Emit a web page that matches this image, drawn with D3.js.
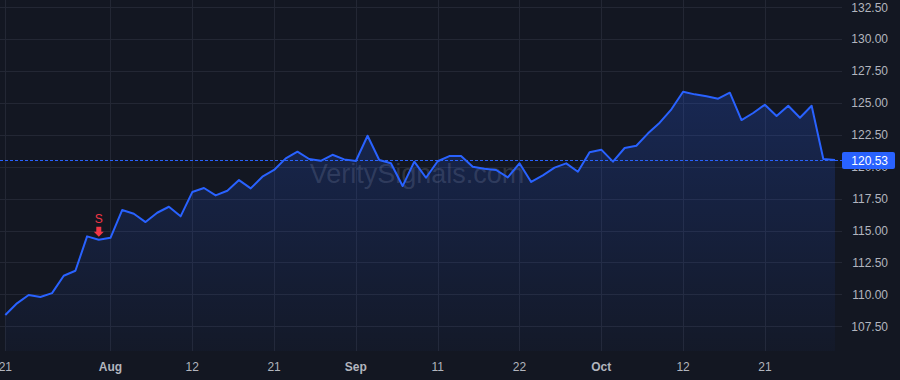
<!DOCTYPE html>
<html>
<head>
<meta charset="utf-8">
<script src="https://cdn.jsdelivr.net/npm/d3@7"></script>
<style>
  html, body { margin: 0; padding: 0; background: #131722; }
  svg { display: block; font-family: "Liberation Sans", Arial, sans-serif; }
</style>
</head>
<body>
<div id="chart"></div>
<script>
// closing prices, one per trading day (Jul 21 .. end of Oct)
var prices = [
  108.38, 109.30, 109.95, 109.79, 110.10, 111.46, 111.85, 114.54, 114.28, 114.43,
  116.60, 116.31, 115.66, 116.39, 116.86, 116.11, 118.01, 118.33, 117.75, 118.11,
  118.95, 118.30, 119.21, 119.74, 120.65, 121.17, 120.60, 120.46, 120.93, 120.57,
  120.44, 122.42, 120.52, 120.26, 118.48, 120.39, 119.13, 120.42, 120.83, 120.83,
  119.99, 119.84, 119.74, 119.16, 120.26, 118.80, 119.32, 119.92, 120.26, 119.60,
  121.12, 121.33, 120.39, 121.46, 121.64, 122.61, 123.44, 124.49, 125.87, 125.66,
  125.51, 125.32, 125.79, 123.65, 124.20, 124.85, 123.96, 124.77, 123.83, 124.77,
  120.60, 120.53
];

// bar index of each time-axis label
var xTickIndex = [0, 9, 16, 23, 30, 37, 44, 51, 58, 65];
var xTickLabels = ["21", "Aug", "12", "21", "Sep", "11", "22", "Oct", "12", "21"];
var monthLabels = ["Aug", "Sep", "Oct"];

var yTicks = [107.5, 110, 112.5, 115, 117.5, 120, 122.5, 125, 127.5, 130, 132.5];

// sell signal
var signalIndex = 8;
var signalText = "S";

var width = 900,
    height = 380;
var plotRight = 842,
    plotBottom = 351;

var lineColor = "#2962ff",
    gridColor = "#232734",
    textColor = "#b2b5be",
    signalColor = "#f23645";

var x = d3.scaleLinear()
  .domain([0, prices.length - 1])
  .range([5.3, 835]);

var y = d3.scaleLinear()
  .domain([107.5, 132.5])
  .range([326.3, 7]);

var fmt = d3.format(".2f");

var svg = d3.select("#chart")
  .append("svg")
    .attr("width", width)
    .attr("height", height);

svg.append("rect")
  .attr("width", width)
  .attr("height", height)
  .attr("fill", "#131722");

var defs = svg.append("defs");
var grad = defs.append("linearGradient")
  .attr("id", "areaFill")
  .attr("gradientUnits", "userSpaceOnUse")
  .attr("x1", 0).attr("x2", 0)
  .attr("y1", y(d3.max(prices)))
  .attr("y2", plotBottom);
grad.append("stop").attr("offset", "0%").attr("stop-color", lineColor).attr("stop-opacity", 0.22);
grad.append("stop").attr("offset", "100%").attr("stop-color", lineColor).attr("stop-opacity", 0.03);

// grid
var grid = svg.append("g").attr("class", "grid");
grid.selectAll("line.h")
  .data(yTicks)
  .enter()
    .append("line")
    .attr("class", "h")
    .attr("x1", 0)
    .attr("x2", plotRight)
    .attr("y1", function(d) { return Math.round(y(d)) + 0.5; })
    .attr("y2", function(d) { return Math.round(y(d)) + 0.5; })
    .attr("stroke", gridColor);

grid.selectAll("line.v")
  .data(xTickIndex)
  .enter()
    .append("line")
    .attr("class", "v")
    .attr("x1", function(d) { return Math.round(x(d)) + 0.5; })
    .attr("x2", function(d) { return Math.round(x(d)) + 0.5; })
    .attr("y1", 0)
    .attr("y2", plotBottom)
    .attr("stroke", gridColor);

// watermark
svg.append("text")
  .attr("x", 417)
  .attr("y", 183)
  .attr("text-anchor", "middle")
  .attr("font-size", "27px")
  .attr("fill", "rgba(178,181,190,0.2)")
  .text("VeritySignals.com");

// area + line
var area = d3.area()
  .x(function(d, i) { return x(i); })
  .y0(plotBottom)
  .y1(function(d) { return y(d); });

var line = d3.line()
  .x(function(d, i) { return x(i); })
  .y(function(d) { return y(d); });

svg.append("path")
  .datum(prices)
  .attr("d", area)
  .attr("fill", "url(#areaFill)");

svg.append("path")
  .datum(prices)
  .attr("d", line)
  .attr("fill", "none")
  .attr("stroke", lineColor)
  .attr("stroke-width", 2)
  .attr("stroke-linejoin", "round");

// last price line
var lastValue = prices[prices.length - 1];
var lastY = Math.round(y(lastValue)) + 0.5;
svg.append("line")
  .attr("x1", 0)
  .attr("x2", plotRight)
  .attr("y1", lastY)
  .attr("y2", lastY)
  .attr("stroke", lineColor)
  .attr("stroke-width", 1)
  .attr("stroke-dasharray", "3,2");

// signal marker
var sx = x(signalIndex),
    sy = y(prices[signalIndex]);
var marker = svg.append("g")
  .attr("transform", "translate(" + sx + "," + sy + ")");
marker.append("path")
  .attr("d", "M-2.5,-13 L2.5,-13 L2.5,-8 L5,-8 L0,-3 L-5,-8 L-2.5,-8 Z")
  .attr("fill", signalColor);
marker.append("text")
  .attr("x", 0)
  .attr("y", -17)
  .attr("text-anchor", "middle")
  .attr("font-size", "12px")
  .attr("fill", signalColor)
  .text(signalText);

// right price axis
svg.append("g")
  .selectAll("text")
  .data(yTicks)
  .enter()
    .append("text")
    .attr("x", 888)
    .attr("y", function(d) { return y(d) + 4.5; })
    .attr("text-anchor", "end")
    .attr("font-size", "12px")
    .attr("fill", textColor)
    .text(function(d) { return fmt(d); });

// last price label sits on top of the axis, covering the tick under it
svg.append("rect")
  .attr("x", 842)
  .attr("y", lastY - 8.5)
  .attr("width", 53)
  .attr("height", 17)
  .attr("rx", 2)
  .attr("fill", lineColor);

svg.append("text")
  .attr("x", 888)
  .attr("y", lastY + 4.5)
  .attr("text-anchor", "end")
  .attr("font-size", "12px")
  .attr("fill", "#ffffff")
  .text(fmt(lastValue));

// time axis
svg.append("g")
  .selectAll("text")
  .data(xTickIndex)
  .enter()
    .append("text")
    .attr("x", function(d) { return x(d); })
    .attr("y", 371)
    .attr("text-anchor", "middle")
    .attr("font-size", "12px")
    .attr("fill", textColor)
    .attr("font-weight", function(d, i) {
      return monthLabels.indexOf(xTickLabels[i]) >= 0 ? "bold" : "normal";
    })
    .text(function(d, i) { return xTickLabels[i]; });
</script>
</body>
</html>
